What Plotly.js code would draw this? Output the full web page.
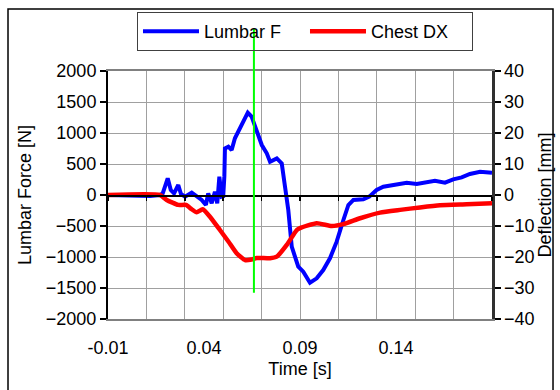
<!DOCTYPE html>
<html>
<head>
<meta charset="utf-8">
<script src="https://cdn.plot.ly/plotly-3.0.1.min.js"></script>
<style>
  html, body { margin: 0; padding: 0; background: #ffffff; }
  #chart { width: 560px; height: 390px; }
</style>
</head>
<body>
<div id="chart"></div>
<script>
// Lumbar load cell force [N] against time [s]
const lumbarTime = [-0.01, 0.0119, 0.0171, 0.0185, 0.0211, 0.0227, 0.0244, 0.0266, 0.0280, 0.0301,
  0.0336, 0.0362, 0.0388, 0.0410, 0.0422, 0.0440, 0.0457, 0.0469, 0.0480, 0.0492,
  0.0500, 0.0506, 0.0509, 0.0527, 0.0544, 0.0561, 0.0579, 0.0605, 0.0628, 0.0648,
  0.0674, 0.0701, 0.0727, 0.0744, 0.0779, 0.0805, 0.0822, 0.0839, 0.0857, 0.0891,
  0.0917, 0.0952, 0.0987, 0.1021, 0.1056, 0.1091, 0.1126, 0.1152, 0.1178, 0.1230,
  0.1261, 0.1299, 0.1334, 0.1404, 0.1456, 0.1508, 0.1560, 0.1603, 0.1655, 0.1698,
  0.1742, 0.1785, 0.1838, 0.1890, 0.1900];
const lumbarForce = [0, -15, 0, 27, 270, 80, 27, 161, 16, -27,
  37, -27, -80, -161, 27, -134, 53, -134, 295, -27,
  -20, 300, 750, 780, 726, 914, 1021, 1210, 1328, 1263,
  1048, 806, 672, 537, 591, 510, 134, -242, -834, -1156,
  -1237, -1414, -1344, -1210, -1021, -753, -403, -161, -80, -70,
  -27, 80, 134, 177, 199, 177, 199, 231, 199, 253,
  285, 339, 376, 376, 360];

// Chest deflection [mm] against time [s]
const chestTime = [-0.01, 0.0171, 0.0206, 0.0266, 0.0306, 0.0336, 0.0362, 0.0393, 0.0431, 0.0483,
  0.0527, 0.0570, 0.0614, 0.0648, 0.0674, 0.0744, 0.0779, 0.0831, 0.0883, 0.0900,
  0.0987, 0.1065, 0.1126, 0.1213, 0.1317, 0.1421, 0.1525, 0.1629, 0.1768, 0.1900];
const chestDeflection = [0, 0, -1.6, -3.2, -3.2, -4.6, -5.6, -4.6, -7, -11.3,
  -15, -18.8, -21, -20.8, -20.3, -20.4, -19.9, -16.1, -11.3, -10.7,
  -9.1, -10, -9.4, -7.5, -5.7, -4.8, -4, -3.3, -3, -2.7];

// Event marker
const markerTime = 0.066;
const markerForceSpan = [-1575, 2680];

// Axis scales and labels
const timeRange = [-0.01, 0.19];
const timeLabels = [-0.01, 0.04, 0.09, 0.14];
const forceRange = [-2000, 2000];
const deflectionRange = [-40, 40];

const FONT = 'Liberation Sans, Arial, sans-serif';
const forceToPaper = v => (v - forceRange[0]) / (forceRange[1] - forceRange[0]);

const traces = [
  {
    x: lumbarTime, y: lumbarForce, name: 'Lumbar F',
    type: 'scatter', mode: 'lines', xaxis: 'x', yaxis: 'y',
    line: { color: '#0000ff', width: 4 }
  },
  {
    x: chestTime, y: chestDeflection, name: 'Chest DX',
    type: 'scatter', mode: 'lines', xaxis: 'x2', yaxis: 'y2',
    line: { color: '#ff0000', width: 4.5, shape: 'spline', smoothing: 0.5 }
  }
];

const layout = {
  width: 560, height: 390,
  margin: { l: 108, r: 68, t: 71, b: 71 },
  paper_bgcolor: '#ffffff', plot_bgcolor: '#ffffff',
  font: { family: FONT, size: 18, color: '#000000' },
  showlegend: true,
  legend: {
    orientation: 'h', x: 0.0755, y: 1.238, xanchor: 'left', yanchor: 'top',
    bgcolor: 'rgba(0,0,0,0)', bordercolor: '#404040', borderwidth: 1,
    font: { family: FONT, size: 18, color: '#000000' },
    itemwidth: 56, entrywidth: 96, entrywidthmode: 'pixels', tracegroupgap: 0
  },
  // gridlines every 0.02 s, axis line drawn along zero force
  xaxis: {
    range: timeRange, tick0: -0.01, dtick: 0.02,
    showgrid: true, gridcolor: '#a0a0a0', gridwidth: 1,
    zeroline: false, showticklabels: false,
    anchor: 'free', position: 0.5,
    showline: true, linecolor: '#000000', linewidth: 1.5,
    ticks: 'outside', ticklen: 4, tickwidth: 1.5, tickcolor: '#000000'
  },
  // time labels along the bottom edge
  xaxis2: {
    overlaying: 'x', anchor: 'y2', side: 'bottom',
    range: timeRange, tickmode: 'array', tickvals: timeLabels,
    ticktext: timeLabels.map(v => v.toFixed(2)),
    showgrid: false, zeroline: false, ticks: '', ticklabelstandoff: 11,
    showline: true, mirror: true, linecolor: '#808080', linewidth: 2,
    tickfont: { family: FONT, size: 18 },
    title: { text: 'Time [s]', font: { family: FONT, size: 18 }, standoff: 6 }
  },
  yaxis: {
    range: forceRange, dtick: 500,
    showgrid: true, gridcolor: '#a0a0a0', gridwidth: 1, zeroline: false,
    showline: true, linecolor: '#000000', linewidth: 2,
    ticks: 'outside', ticklen: 6, tickwidth: 1.5, tickcolor: '#000000',
    tickfont: { family: FONT, size: 18 },
    title: { text: 'Lumbar Force [N]', font: { family: FONT, size: 18 }, standoff: 10 }
  },
  yaxis2: {
    range: deflectionRange, dtick: 10, overlaying: 'y', side: 'right', anchor: 'x2',
    showgrid: false, zeroline: false,
    showline: true, linecolor: '#303030', linewidth: 2.5,
    ticks: 'outside', ticklen: 6, tickwidth: 1.5, tickcolor: '#000000',
    tickfont: { family: FONT, size: 18 },
    title: { text: 'Deflection [mm]', font: { family: FONT, size: 18 }, standoff: 4 }
  },
  shapes: [
    {
      type: 'line', xref: 'x', yref: 'paper', layer: 'above',
      x0: markerTime, x1: markerTime,
      y0: forceToPaper(markerForceSpan[0]), y1: forceToPaper(markerForceSpan[1]),
      line: { color: '#00ff00', width: 2 }
    },
    {
      type: 'rect', xref: 'paper', yref: 'paper', layer: 'above',
      x0: -0.2604, x1: 1.1589, y0: -0.31, y1: 1.25,
      line: { color: '#000000', width: 1.5 }, fillcolor: 'rgba(0,0,0,0)'
    }
  ]
};

Plotly.newPlot('chart', traces, layout, { staticPlot: true, displayModeBar: false });
</script>
</body>
</html>
